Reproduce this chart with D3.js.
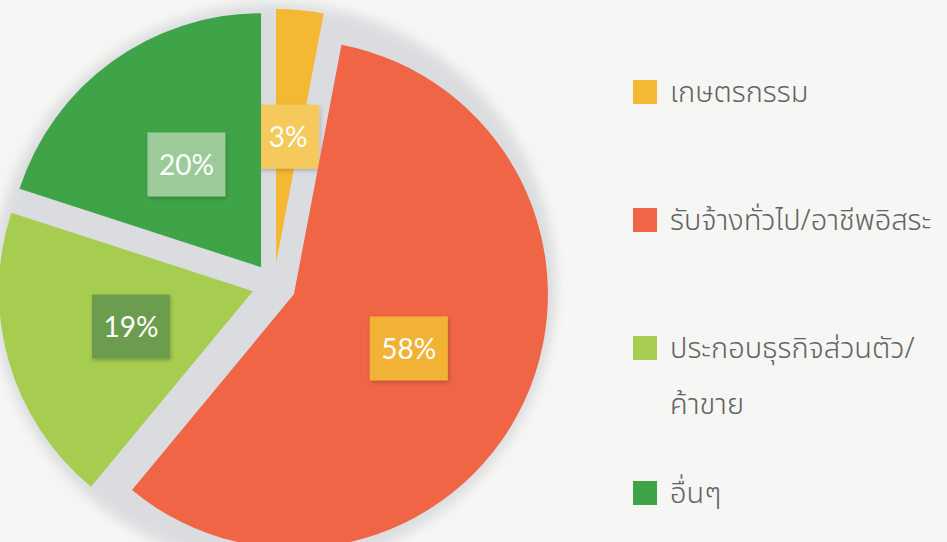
<!DOCTYPE html>
<html>
<head>
<meta charset="utf-8">
<script src="https://cdn.jsdelivr.net/npm/d3@7"></script>
<style>
    body { margin: 0; background: #f6f6f4; }
    svg { display: block; }
    .pctLabel { font-family: Lato, "Open Sans", sans-serif; fill: #fff; }
    .legendText { font-family: "Noto Sans Thai", "Noto Sans", "DejaVu Sans", sans-serif; fill: #626262; font-weight: 300; }
</style>
</head>
<body>
<div id="chart"></div>
<script>
// data
var categories = ["เกษตรกรรม", "รับจ้างทั่วไป/อาชีพอิสระ", "ประกอบธุรกิจส่วนตัว/ค้าขาย", "อื่นๆ"];
var legendLines = [["เกษตรกรรม"], ["รับจ้างทั่วไป/อาชีพอิสระ"], ["ประกอบธุรกิจส่วนตัว/", "ค้าขาย"], ["อื่นๆ"]];
var values = [3, 58, 19, 20];
var labels = ["3%", "58%", "19%", "20%"];

const SLICE_COLORS = ["#f5b832", "#ef6545", "#a7cd50", "#3fa448"];
const BOX_COLORS = ["#f6c95c", "#f1b234", "#6c9c4e", "#9ccb99"];
const WIDTH = 947;
const HEIGHT = 542;
const RADIUS = 254;
const EXPLODE = 22;

var svg = d3.select("#chart")
    .append("svg")
    .attr("width", WIDTH)
    .attr("height", HEIGHT);

var defs = svg.append("defs");
var blur = defs.append("filter")
    .attr("id", "halo")
    .attr("x", "-20%").attr("y", "-20%")
    .attr("width", "140%").attr("height", "140%");
blur.append("feGaussianBlur").attr("stdDeviation", 6);

var boxShadow = defs.append("filter")
    .attr("id", "boxShadow")
    .attr("x", "-30%").attr("y", "-30%")
    .attr("width", "160%").attr("height", "160%");
boxShadow.append("feDropShadow")
    .attr("dx", 1).attr("dy", 2)
    .attr("stdDeviation", 2)
    .attr("flood-color", "#000")
    .attr("flood-opacity", 0.22);

var pie = d3.pie().sort(null).value(function (d) { return d; });
var arcs = pie(values);

var arc = d3.arc().innerRadius(0).outerRadius(RADIUS);
var labelArc = d3.arc().innerRadius(RADIUS * 0.5).outerRadius(RADIUS * 0.5);

var pieGroup = svg.append("g")
    .attr("transform", "translate(274,285)");

function offset(d) {
    var mid = (d.startAngle + d.endAngle) / 2;
    return [EXPLODE * Math.sin(mid), -EXPLODE * Math.cos(mid)];
}

// grey halo behind whole pie
pieGroup.append("circle")
    .attr("r", RADIUS + 28)
    .attr("fill", "#d9dadd")
    .attr("filter", "url(#halo)")
    .attr("opacity", 0.9);

var slices = pieGroup.selectAll(".slice")
    .data(arcs)
    .enter()
    .append("g")
    .attr("class", "slice")
    .attr("transform", function (d) {
        var o = offset(d);
        return "translate(" + o[0] + "," + o[1] + ")";
    });

slices.append("path")
    .attr("d", arc)
    .attr("fill", function (d, i) { return SLICE_COLORS[i]; });

// percentage boxes
var boxW = [62, 78, 78, 78];
var boxH = 64;
var labelG = slices.append("g")
    .attr("transform", function (d) {
        var c = labelArc.centroid(d);
        return "translate(" + c[0] + "," + c[1] + ")";
    });

labelG.append("rect")
    .attr("x", function (d, i) { return -boxW[i] / 2; })
    .attr("y", -boxH / 2)
    .attr("width", function (d, i) { return boxW[i]; })
    .attr("height", boxH)
    .attr("fill", function (d, i) { return BOX_COLORS[i]; })
    .attr("filter", "url(#boxShadow)");

labelG.append("text")
    .attr("class", "pctLabel")
    .attr("text-anchor", "middle")
    .attr("dy", "0.36em")
    .style("font-size", "28px")
    .text(function (d, i) { return labels[i]; });

// legend
var legendY = [92, 220, 348, 493];
var legend = svg.selectAll(".legendItem")
    .data(categories)
    .enter()
    .append("g")
    .attr("class", "legendItem")
    .attr("transform", function (d, i) { return "translate(633," + legendY[i] + ")"; });

legend.append("rect")
    .attr("x", 0)
    .attr("y", -12)
    .attr("width", 24)
    .attr("height", 24)
    .attr("fill", function (d, i) { return SLICE_COLORS[i]; });

legend.each(function (d, i) {
    var g = d3.select(this);
    legendLines[i].forEach(function (line, j) {
        g.append("text")
            .attr("class", "legendText")
            .attr("x", 37)
            .attr("y", j * 56)
            .attr("dy", "0.35em")
            .style("font-size", "29px")
            .text(line);
    });
});
</script>
</body>
</html>
